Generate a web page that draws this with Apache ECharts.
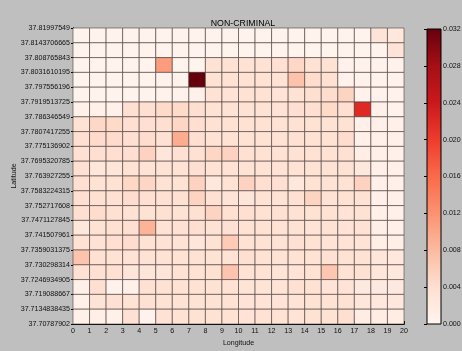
<!DOCTYPE html>
<html><head><meta charset="utf-8">
<script src="https://cdn.jsdelivr.net/npm/echarts@6/dist/echarts.min.js"></script>
<style>html,body{margin:0;padding:0;background:#bfbfbf;}#c{width:462px;height:351px;}</style>
</head><body><div id="c"></div>
<script>
const chartTitle = 'NON-CRIMINAL';
const xName = 'Longitude';
const yName = 'Latitude';
// longitude tick labels (cell edges)
const lonTicks = ['0','1','2','3','4','5','6','7','8','9','10','11','12','13','14','15','16','17','18','19','20'];
// latitude tick labels, bottom edge to top edge
const latTicks = ['37.70787902','37.7134838435','37.719088667','37.7246934905','37.730298314','37.7359031375','37.741507961','37.7471127845','37.752717608','37.7583224315','37.763927255','37.7695320785','37.775136902','37.7807417255','37.786346549','37.7919513725','37.797556196','37.8031610195','37.808765843','37.8143706665','37.81997549'];
// cell values, top row first, columns 0..19
const rowsTopDown = [
 [0.0004,0.0004,0.0004,0.0004,0.0004,0.0004,0.0004,0.0004,0.0004,0.0004,0.0004,0.0004,0.0004,0.0004,0.0004,0.0004,0.0004,0.0004,0.0034,0.0026],
 [0.0004,0.0004,0.0004,0.0004,0.0004,0.0004,0.0004,0.0004,0.0004,0.0004,0.0004,0.0004,0.0004,0.0004,0.0004,0.0004,0.0004,0.0004,0.0004,0.0032],
 [0.0004,0.0004,0.0004,0.0004,0.0004,0.0110,0.0004,0.0004,0.0037,0.0037,0.0037,0.0037,0.0039,0.0050,0.0037,0.0037,0.0006,0.0006,0.0006,0.0006],
 [0.0004,0.0004,0.0004,0.0004,0.0004,0.0006,0.0006,0.0320,0.0037,0.0037,0.0037,0.0037,0.0037,0.0072,0.0043,0.0039,0.0006,0.0006,0.0006,0.0006],
 [0.0004,0.0004,0.0004,0.0004,0.0004,0.0006,0.0006,0.0008,0.0037,0.0035,0.0037,0.0037,0.0035,0.0037,0.0041,0.0043,0.0054,0.0006,0.0006,0.0006],
 [0.0008,0.0008,0.0008,0.0041,0.0041,0.0047,0.0047,0.0041,0.0037,0.0037,0.0037,0.0037,0.0037,0.0041,0.0041,0.0047,0.0041,0.0220,0.0008,0.0006],
 [0.0037,0.0049,0.0047,0.0041,0.0041,0.0041,0.0051,0.0041,0.0037,0.0037,0.0037,0.0037,0.0037,0.0037,0.0037,0.0037,0.0037,0.0008,0.0008,0.0008],
 [0.0041,0.0045,0.0045,0.0041,0.0043,0.0039,0.0095,0.0041,0.0037,0.0037,0.0037,0.0037,0.0037,0.0039,0.0037,0.0037,0.0043,0.0008,0.0008,0.0008],
 [0.0039,0.0041,0.0041,0.0041,0.0055,0.0029,0.0039,0.0039,0.0051,0.0055,0.0039,0.0037,0.0037,0.0037,0.0037,0.0037,0.0039,0.0014,0.0008,0.0008],
 [0.0039,0.0029,0.0031,0.0037,0.0037,0.0037,0.0037,0.0041,0.0037,0.0037,0.0037,0.0037,0.0037,0.0037,0.0037,0.0037,0.0037,0.0027,0.0008,0.0008],
 [0.0041,0.0037,0.0037,0.0049,0.0051,0.0037,0.0037,0.0055,0.0027,0.0037,0.0055,0.0041,0.0041,0.0027,0.0037,0.0037,0.0037,0.0055,0.0010,0.0010],
 [0.0041,0.0039,0.0039,0.0043,0.0041,0.0039,0.0039,0.0053,0.0039,0.0033,0.0031,0.0037,0.0037,0.0039,0.0053,0.0037,0.0037,0.0037,0.0010,0.0010],
 [0.0041,0.0043,0.0039,0.0037,0.0037,0.0039,0.0037,0.0039,0.0053,0.0039,0.0041,0.0037,0.0039,0.0037,0.0037,0.0037,0.0035,0.0037,0.0010,0.0010],
 [0.0027,0.0037,0.0039,0.0041,0.0088,0.0037,0.0039,0.0041,0.0037,0.0039,0.0037,0.0037,0.0037,0.0037,0.0035,0.0037,0.0035,0.0037,0.0012,0.0010],
 [0.0037,0.0037,0.0041,0.0043,0.0037,0.0037,0.0037,0.0029,0.0037,0.0063,0.0037,0.0037,0.0037,0.0039,0.0037,0.0035,0.0035,0.0035,0.0012,0.0012],
 [0.0070,0.0039,0.0037,0.0037,0.0037,0.0037,0.0037,0.0037,0.0037,0.0037,0.0041,0.0037,0.0037,0.0037,0.0037,0.0039,0.0037,0.0037,0.0028,0.0026],
 [0.0039,0.0039,0.0039,0.0031,0.0031,0.0031,0.0037,0.0037,0.0039,0.0070,0.0037,0.0037,0.0033,0.0035,0.0037,0.0068,0.0037,0.0039,0.0028,0.0026],
 [0.0008,0.0041,0.0006,0.0009,0.0039,0.0037,0.0037,0.0037,0.0037,0.0037,0.0033,0.0033,0.0035,0.0039,0.0037,0.0035,0.0035,0.0022,0.0022,0.0022],
 [0.0010,0.0033,0.0039,0.0037,0.0039,0.0037,0.0037,0.0037,0.0037,0.0037,0.0035,0.0035,0.0035,0.0035,0.0037,0.0037,0.0037,0.0029,0.0026,0.0026],
 [0.0009,0.0012,0.0010,0.0039,0.0007,0.0037,0.0037,0.0037,0.0037,0.0037,0.0035,0.0037,0.0037,0.0035,0.0037,0.0037,0.0041,0.0018,0.0016,0.0016]
];
const colorMin = 0;
const colorMax = 0.032;
const colorStep = 0.004;
const reds = ['#fff5f0','#fee0d2','#fcbba1','#fc9272','#fb6a4a','#ef3b2c','#cb181d','#a50f15','#67000d'];

const nRows = rowsTopDown.length;
const cells = [];
rowsTopDown.forEach((row, t) => {
  row.forEach((v, c) => cells.push([c, nRows - 1 - t, v]));
});

const font = 'Liberation Sans, Arial, sans-serif';
const lbl = {fontFamily: font, fontSize: 7.1, color: '#111'};
const blackLine = {show: true, lineStyle: {color: '#000', width: 1}};

const chart = echarts.init(document.getElementById('c'), null, {renderer: 'canvas'});
chart.setOption({
  backgroundColor: '#bfbfbf',
  animation: false,
  title: {text: chartTitle, left: 238, top: 14, textAlign: 'center',
    textStyle: {fontFamily: font, fontSize: 8.8, fontWeight: 'normal', color: '#000'}},
  grid: [
    {left: 73, top: 28, width: 331, height: 296, outerBoundsMode: 'none', containLabel: false},
    {left: 427, top: 29, width: 14, height: 295, outerBoundsMode: 'none', containLabel: false}
  ],
  xAxis: [
    {gridIndex: 0, type: 'value', min: 0, max: 20, interval: 1, position: 'bottom',
     name: xName, nameLocation: 'middle', nameGap: 16, nameMoveOverlap: false, nameTextStyle: lbl,
     axisLine: blackLine, axisTick: {show: true, inside: true, length: 3, lineStyle: {color: '#000'}},
     axisLabel: Object.assign({margin: 4, showMinLabel: true, showMaxLabel: true, formatter: v => lonTicks[v]}, lbl),
     splitLine: {show: false}},
    {gridIndex: 0, type: 'value', min: 0, max: 20, interval: 1, position: 'top',
     axisLine: blackLine, axisTick: {show: false}, axisLabel: {show: false}, splitLine: {show: false}},
    {gridIndex: 1, type: 'value', min: 0, max: 1, show: false}
  ],
  yAxis: [
    {gridIndex: 0, type: 'value', min: 0, max: 20, interval: 1, position: 'left',
     name: yName, nameLocation: 'middle', nameGap: 55, nameMoveOverlap: false, nameTextStyle: lbl,
     axisLine: blackLine, axisTick: {show: true, inside: false, length: 2, lineStyle: {color: '#000'}},
     axisLabel: Object.assign({margin: 3, showMinLabel: true, showMaxLabel: true, formatter: v => latTicks[v]}, lbl),
     splitLine: {show: false}},
    {gridIndex: 0, type: 'value', min: 0, max: 20, interval: 1, position: 'right',
     axisLine: blackLine, axisTick: {show: false}, axisLabel: {show: false}, splitLine: {show: false}},
    {gridIndex: 1, type: 'value', min: colorMin, max: colorMax, interval: colorStep, position: 'right',
     axisLine: {show: false}, axisTick: {show: true, inside: true, length: 3, lineStyle: {color: '#000'}},
     axisLabel: Object.assign({margin: 2, showMinLabel: true, showMaxLabel: true, formatter: v => v.toFixed(3)}, lbl),
     splitLine: {show: false}}
  ],
  visualMap: {show: false, type: 'continuous', min: colorMin, max: colorMax, dimension: 2, seriesIndex: 0,
    inRange: {color: reds}},
  series: [
    {type: 'custom', xAxisIndex: 0, yAxisIndex: 0, data: cells, encode: {x: 0, y: 1},
     renderItem: (params, api) => {
       const x = api.value(0), y = api.value(1);
       const p0 = api.coord([x, y]);
       const p1 = api.coord([x + 1, y + 1]);
       return {type: 'rect',
         shape: {x: p0[0], y: p1[1], width: p1[0] - p0[0], height: p0[1] - p1[1]},
         style: {fill: api.visual('color'), stroke: 'rgba(70,58,56,0.65)', lineWidth: 0.9}};
     }},
    {type: 'custom', xAxisIndex: 2, yAxisIndex: 2, data: [[0, colorMin]], encode: {x: 0, y: 1}, z: 1,
     renderItem: (params, api) => {
       const p0 = api.coord([0, colorMin]);
       const p1 = api.coord([1, colorMax]);
       const stops = reds.map((c, i) => ({offset: i / (reds.length - 1), color: c}));
       return {type: 'rect',
         shape: {x: p0[0], y: p1[1], width: p1[0] - p0[0], height: p0[1] - p1[1]},
         style: {fill: new echarts.graphic.LinearGradient(0, 1, 0, 0, stops), stroke: '#000', lineWidth: 1}};
     }}
  ]
});
</script></body></html>
